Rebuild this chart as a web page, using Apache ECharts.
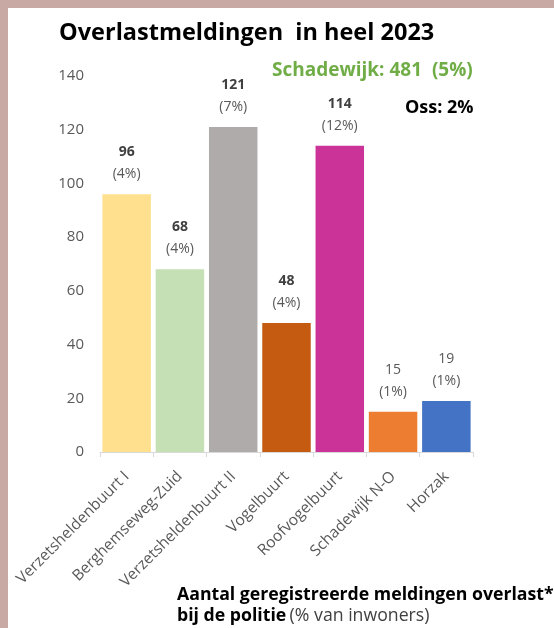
<!DOCTYPE html>
<html>
<head>
<meta charset="utf-8">
<script src="https://cdn.jsdelivr.net/npm/echarts@6/dist/echarts.min.js"></script>
<style>
html,body{margin:0;padding:0;background:#fff;}
#wrap{position:absolute;left:0;top:0;width:554px;height:628px;background:#fff;}
#bl{position:absolute;left:0;top:0;width:8px;height:628px;background:#c9a9a4;}
#bt{position:absolute;left:0;top:0;width:554px;height:8px;background:#c9a9a4;}
#chart{position:absolute;left:0;top:0;width:554px;height:628px;}
</style>
</head>
<body>
<div id="wrap"><div id="chart"></div><div id="bl"></div><div id="bt"></div></div>
<script>
const categories = ["Verzetsheldenbuurt I","Berghemseweg-Zuid","Verzetsheldenbuurt II","Vogelbuurt","Roofvogelbuurt","Schadewijk N-O","Horzak"];
const values = [96, 68, 121, 48, 114, 15, 19];
const percents = ["4%","4%","7%","4%","12%","1%","1%"];
const boldValue = [true, true, true, true, true, false, false];
const yTicks = [0, 20, 40, 60, 80, 100, 120, 140];

const barColors = ["#FFE08F","#C5E0B4","#AFABAB","#C55A11","#CC3399","#ED7D31","#4472C4"];
const FONT = "Open Sans";

const chart = echarts.init(document.getElementById('chart'), null, {renderer:'canvas'});
const option = {
  backgroundColor: 'transparent',
  animation: false,
  textStyle: {fontFamily: FONT},
  title: {
    text: "Overlastmeldingen  in heel 2023",
    left: 59, top: 21, padding: 0,
    textStyle: {fontFamily: FONT, fontWeight: 'bold', fontSize: 23.5, color: '#000'}
  },
  grid: {left: 100, right: 81, top: 76, bottom: 176},
  xAxis: {
    type: 'category',
    data: categories,
    axisLine: {lineStyle: {color: '#d9d9d9', width: 1}},
    axisTick: {show: true, length: 5, lineStyle: {color: '#d9d9d9'}},
    axisLabel: {interval: 0, rotate: 45, fontSize: 15.5, color: '#595959', margin: 22, fontFamily: FONT}
  },
  yAxis: {
    type: 'value',
    min: yTicks[0], max: yTicks[yTicks.length-1], interval: 20,
    splitLine: {show: false},
    axisLine: {show: false},
    axisTick: {show: false},
    axisLabel: {fontSize: 15, color: '#595959', margin: 16, fontFamily: FONT}
  },
  series: [{
    type: 'bar',
    barCategoryGap: '9%',
    data: values.map((v, i) => ({
      value: v,
      itemStyle: {color: barColors[i]},
      label: {
        show: true,
        position: 'top',
        distance: 9,
        formatter: '{' + (boldValue[i] ? 'b' : 'n') + '|' + v + '}\n{p|(' + percents[i] + ')}',
        rich: {
          b: {fontFamily: FONT, fontWeight: 'bold', fontSize: 14, color: '#404040', lineHeight: 22, align: 'center'},
          n: {fontFamily: FONT, fontSize: 14, color: '#595959', lineHeight: 22, align: 'center'},
          p: {fontFamily: FONT, fontSize: 14, color: '#595959', lineHeight: 22, align: 'center'}
        }
      }
    }))
  }],
  graphic: [
    {type: 'text', left: 272, top: 61, style: {text: "Schadewijk: 481  (5%)", fill: '#70AD47', font: 'bold 19px ' + FONT}},
    {type: 'text', left: 405, top: 99, style: {text: "Oss: 2%", fill: '#000', font: 'bold 18px ' + FONT}},
    {type: 'text', left: 177, top: 586, style: {
      text: "{b|Aantal geregistreerde meldingen overlast*}\n{b|bij de politie} {n|(% van inwoners)}",
      rich: {
        b: {fontFamily: FONT, fontWeight: 'bold', fontSize: 17.7, fill: '#000', lineHeight: 21},
        n: {fontFamily: FONT, fontSize: 17.7, fill: '#404040', lineHeight: 21}
      }
    }}
  ]
};
chart.setOption(option);
</script>
</body>
</html>
